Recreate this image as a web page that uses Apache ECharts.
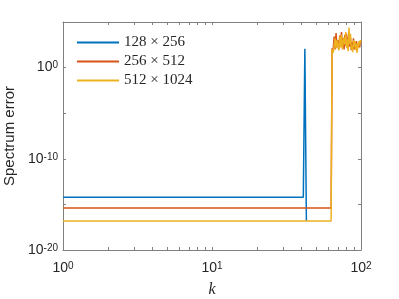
<!DOCTYPE html>
<html><head><meta charset="utf-8">
<script src="https://cdn.jsdelivr.net/npm/echarts@6/dist/echarts.min.js"></script>
<style>html,body{margin:0;padding:0;background:#fff}#c{width:399px;height:299px}</style>
</head><body><div id="c"></div>
<script>
const seriesNames = ['128 \u00d7 256', '256 \u00d7 512', '512 \u00d7 1024'];
const blueK = [1, 41, 42, 43];
const blueVal = [6e-15, 6e-15, 120, 1.5e-17];
const plateauK = [1, 63];
const redPlateau = [4e-16, 4e-16];
const yellowPlateau = [1.5e-17, 1.5e-17];
const noiseK = [64,65,66,67,68,69,70,71,72,73,74,75,76,77,78,79,80,81,82,83,84,85,86,87,88,89,90,91,92,93,94,95,96,97,98,99,100];
const redNoise = [130,63,2500,100,6300,160,1000,100,3200,400,8000,160,1600,100,4000,250,5000,130,800,6300,200,2000,80,630,130,1600,100,500,160,800,63,320,200,630,160,800,500];
const yellowNoise = [100,40,200,1600,130,1000,250,80,2500,160,4000,100,630,2000,320,8000,160,1300,63,25000,400,5000,100,250,50,1000,200,800,80,400,40,500,130,800,320,1000,630];
const xTickValues = [1,2,3,4,5,6,7,8,9,10,20,30,40,50,60,70,80,90,100];
const xLabelValues = [1, 10, 100];
const yTickValues = [1e-20, 1e-15, 1e-10, 1e-5, 1, 1e5];
const yLabelValues = [1e-20, 1e-10, 1];

function pairs(ks, vs) { return ks.map((k, i) => [k, vs[i]]); }
const blueData = pairs(blueK, blueVal);
const redData = pairs(plateauK, redPlateau).concat(pairs(noiseK, redNoise));
const yellowData = pairs(plateauK, yellowPlateau).concat(pairs(noiseK, yellowNoise));

const axisColor = '#808080';
const textColor = '#262626';
const rich = {
  b: { fontSize: 14, fontFamily: 'Liberation Sans', color: textColor, lineHeight: 14, padding: [3, 0, 0, 0], verticalAlign: 'bottom' },
  s: { fontSize: 10, fontFamily: 'Liberation Sans', color: textColor, lineHeight: 10, verticalAlign: 'top' }
};
function powFmt(v) {
  const e = Math.round(Math.log10(v));
  return '{b|10}{s|' + (e < 0 ? '-' + (-e) : e) + '}';
}
function xAxisDef(pos, labels) {
  return {
    type: 'log', logBase: 10, min: 1, max: 100, position: pos,
    axisLine: { show: true, onZero: false, lineStyle: { color: axisColor, width: 1 } },
    axisTick: { show: true, inside: true, length: 3, customValues: xTickValues, lineStyle: { color: axisColor } },
    axisLabel: { show: labels, customValues: xLabelValues, formatter: powFmt, rich: rich, margin: 11 },
    splitLine: { show: false }, minorTick: { show: false },
    name: labels ? 'k' : '', nameLocation: 'middle', nameGap: 32,
    nameTextStyle: { fontFamily: 'Liberation Serif', fontStyle: 'italic', fontSize: 16, color: textColor }
  };
}
function yAxisDef(pos, labels) {
  return {
    type: 'log', logBase: 10, min: 1e-20, max: 1e5, position: pos,
    axisLine: { show: true, onZero: false, lineStyle: { color: axisColor, width: 1 } },
    axisTick: { show: true, inside: true, length: 3, customValues: yTickValues, lineStyle: { color: axisColor } },
    axisLabel: { show: labels, customValues: yLabelValues, formatter: powFmt, rich: rich, margin: 5 },
    splitLine: { show: false }, minorTick: { show: false },
    name: labels ? 'Spectrum error' : '', nameLocation: 'middle', nameGap: 44,
    nameTextStyle: { fontFamily: 'Liberation Sans', fontSize: 15, color: textColor }
  };
}
const chart = echarts.init(document.getElementById('c'), null, { renderer: 'canvas' });
chart.setOption({
  animation: false,
  backgroundColor: '#fff',
  grid: { left: 63, right: 38, top: 22, bottom: 49, containLabel: false, outerBoundsMode: 'none' },
  xAxis: [xAxisDef('bottom', true), xAxisDef('top', false)],
  yAxis: [yAxisDef('left', true), yAxisDef('right', false)],
  legend: {
    orient: 'vertical', left: 77, top: 35, padding: 0, itemWidth: 42, itemHeight: 15, itemGap: 4,
    icon: 'path://M0,6 L42,6 L42,8 L0,8 Z',
    textStyle: { fontFamily: 'Liberation Serif', fontSize: 15, color: textColor },
    data: seriesNames
  },
  series: [
    { name: seriesNames[0], type: 'line', data: blueData, symbol: 'none', lineStyle: { width: 1.5, color: '#0072BD' }, itemStyle: { color: '#0072BD' } },
    { name: seriesNames[1], type: 'line', data: redData, symbol: 'none', lineStyle: { width: 1.5, color: '#D95319' }, itemStyle: { color: '#D95319' } },
    { name: seriesNames[2], type: 'line', data: yellowData, symbol: 'none', lineStyle: { width: 1.5, color: '#EDB120' }, itemStyle: { color: '#EDB120' } }
  ]
});
</script></body></html>
